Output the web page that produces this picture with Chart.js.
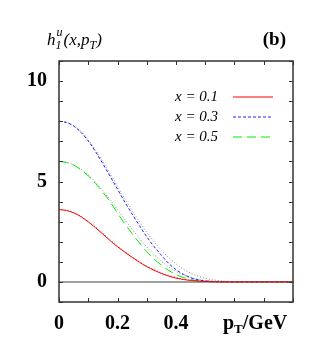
<!DOCTYPE html>
<html>
<head>
<meta charset="utf-8">
<script src="https://cdn.jsdelivr.net/npm/chart.js@4.4.0/dist/chart.umd.min.js"></script>
<style>
  html, body { margin: 0; padding: 0; background: #fff; }
  #wrap { width: 327px; height: 343px; }
</style>
</head>
<body>
<div id="wrap"><canvas id="chart" width="327" height="343"></canvas></div>
<script>
// pT grid (GeV)
const pT = [0, 0.025, 0.05, 0.075, 0.1, 0.125, 0.15, 0.175, 0.2, 0.225, 0.25, 0.275,
  0.3, 0.325, 0.35, 0.375, 0.4, 0.425, 0.45, 0.475, 0.5, 0.55, 0.6, 0.7, 0.8];

// h1^u(x, pT)
const x01 = [3.60, 3.56, 3.44, 3.25, 2.99, 2.70, 2.38, 2.05, 1.75, 1.48, 1.22, 0.98,
  0.76, 0.58, 0.42, 0.29, 0.19, 0.12, 0.07, 0.04, 0.02, 0.00, 0, 0, 0];
const x03 = [8.00, 7.94, 7.76, 7.45, 7.02, 6.48, 5.88, 5.25, 4.62, 3.98, 3.38, 2.80,
  2.25, 1.76, 1.33, 0.92, 0.61, 0.38, 0.21, 0.11, 0.05, 0.01, 0, 0, 0];
const x05 = [6.00, 5.95, 5.82, 5.58, 5.28, 4.90, 4.46, 3.98, 3.42, 2.90, 2.40, 1.94,
  1.50, 1.13, 0.84, 0.57, 0.37, 0.22, 0.12, 0.06, 0.03, 0.01, 0, 0, 0];

// grey dotted companions (unlabelled)
const g01 = [3.60, 3.56, 3.45, 3.27, 3.02, 2.74, 2.43, 2.11, 1.80, 1.51, 1.25, 1.01,
  0.80, 0.62, 0.46, 0.33, 0.23, 0.15, 0.10, 0.06, 0.03, 0.01, 0, 0, 0];
const g03 = [8.00, 7.95, 7.78, 7.49, 7.08, 6.57, 5.99, 5.38, 4.76, 4.15, 3.56, 3.00,
  2.48, 2.00, 1.58, 1.21, 0.90, 0.64, 0.44, 0.29, 0.18, 0.06, 0.02, 0, 0];
const g05 = [6.00, 5.96, 5.83, 5.61, 5.32, 4.96, 4.54, 4.08, 3.60, 3.11, 2.63, 2.17,
  1.74, 1.36, 1.03, 0.75, 0.52, 0.35, 0.22, 0.13, 0.08, 0.02, 0, 0, 0];

const legendLabels = ["x = 0.1", "x = 0.3", "x = 0.5"];
const colors = ["#ff0000", "#2020ff", "#00ee00"];
const dashes = [[], [3, 2], [9, 5]];
const xTickLabels = [0, 0.2, 0.4];
const yTickLabels = [0, 5, 10];

const pts = arr => pT.map((p, i) => ({ x: p, y: arr[i] }));

function line(data, color, dash) {
  return {
    data: pts(data),
    borderColor: color,
    borderWidth: 1,
    borderDash: dash,
    pointRadius: 0,
    fill: false,
    cubicInterpolationMode: "monotone"
  };
}

const serif = "'Liberation Serif', 'DejaVu Serif', serif";

// frame, inward ticks, zero line, labels, legend
const decor = {
  id: "decor",
  beforeDatasetsDraw(chart) {
    const { ctx, chartArea: a, scales: { y } } = chart;
    ctx.save();
    const y0 = y.getPixelForValue(0);
    ctx.strokeStyle = "#808080";
    ctx.lineWidth = 1.5;
    ctx.beginPath();
    ctx.moveTo(a.left, y0);
    ctx.lineTo(a.right, y0);
    ctx.stroke();
    ctx.restore();
  },
  afterDraw(chart) {
    const { ctx, chartArea: a, scales: { x, y } } = chart;
    ctx.save();
    ctx.strokeStyle = "#333";
    ctx.lineWidth = 1.5;
    ctx.strokeRect(a.left, a.top, a.right - a.left, a.bottom - a.top);

    ctx.lineWidth = 1;
    ctx.beginPath();
    x.ticks.forEach(t => {
      const px = Math.round(x.getPixelForValue(t.value)) + 0.5;
      ctx.moveTo(px, a.bottom); ctx.lineTo(px, a.bottom - 4);
      ctx.moveTo(px, a.top); ctx.lineTo(px, a.top + 4);
    });
    y.ticks.forEach(t => {
      const py = Math.round(y.getPixelForValue(t.value)) + 0.5;
      ctx.moveTo(a.left, py); ctx.lineTo(a.left + 4, py);
      ctx.moveTo(a.right, py); ctx.lineTo(a.right - 4, py);
    });
    ctx.stroke();

    // title h_1^u(x,p_T)
    ctx.fillStyle = "#000";
    ctx.textBaseline = "alphabetic";
    ctx.textAlign = "left";
    let cx = 47;
    const base = 45;
    ctx.font = "italic 17px " + serif;
    ctx.fillText("h", cx, base);
    cx += ctx.measureText("h").width;
    ctx.font = "italic 12px " + serif;
    ctx.fillText("u", cx + 1, base - 9);
    ctx.fillText("1", cx, base + 4);
    cx += ctx.measureText("u").width + 2;
    ctx.font = "italic 17px " + serif;
    ctx.fillText("(x,p", cx, base);
    cx += ctx.measureText("(x,p").width;
    ctx.font = "italic 12px " + serif;
    ctx.fillText("T", cx, base + 4);
    cx += ctx.measureText("T").width;
    ctx.font = "italic 17px " + serif;
    ctx.fillText(")", cx, base);

    ctx.font = "bold 19px " + serif;
    ctx.textAlign = "right";
    ctx.fillText("(b)", 286, base);

    // axis label pT/GeV
    ctx.textAlign = "left";
    const bx = 223, by = 329;
    ctx.font = "bold 20px " + serif;
    ctx.fillText("p", bx, by);
    let w = ctx.measureText("p").width;
    ctx.font = "bold 13px " + serif;
    ctx.fillText("T", bx + w, by + 4);
    w += ctx.measureText("T").width;
    ctx.font = "bold 20px " + serif;
    ctx.fillText("/GeV", bx + w, by);

    // legend
    ctx.font = "italic 15px " + serif;
    ctx.textAlign = "right";
    ctx.textBaseline = "middle";
    legendLabels.forEach((lab, i) => {
      const ly = 97 + i * 20;
      ctx.fillStyle = "#000";
      ctx.fillText(lab, 218, ly);
      ctx.strokeStyle = colors[i];
      ctx.setLineDash(dashes[i]);
      ctx.lineWidth = 1.2;
      ctx.beginPath();
      ctx.moveTo(233, ly);
      ctx.lineTo(273, ly);
      ctx.stroke();
    });
    ctx.setLineDash([]);
    ctx.restore();
  }
};

new Chart(document.getElementById("chart"), {
  type: "line",
  data: {
    datasets: [
      line(x01, colors[0], dashes[0]),
      line(x03, colors[1], dashes[1]),
      line(x05, colors[2], dashes[2]),
      line(g01, "#8a8a8a", [1, 2]),
      line(g03, "#8a8a8a", [1, 2]),
      line(g05, "#8a8a8a", [1, 2])
    ]
  },
  options: {
    responsive: false,
    animation: false,
    layout: { padding: { top: 61, right: 34, left: 0, bottom: 0 } },
    plugins: { legend: { display: false }, tooltip: { enabled: false } },
    scales: {
      x: {
        type: "linear",
        min: 0,
        max: 0.8,
        afterFit: s => { s.height = 41; },
        grid: { display: false, drawTicks: false },
        border: { display: false },
        ticks: {
          stepSize: 0.1,
          autoSkip: false,
          maxRotation: 0,
          padding: 10,
          color: "#000",
          font: { family: serif, size: 20, weight: "bold" },
          callback: v => {
            const r = Math.round(v * 10) / 10;
            return xTickLabels.includes(r) ? String(r) : "";
          }
        }
      },
      y: {
        min: -1,
        max: 11,
        afterFit: s => { s.width = 59; },
        grid: { display: false, drawTicks: false },
        border: { display: false },
        ticks: {
          stepSize: 1,
          autoSkip: false,
          padding: 12,
          color: "#000",
          font: { family: serif, size: 20, weight: "bold" },
          callback: v => yTickLabels.includes(v) ? String(v) : ""
        }
      }
    }
  },
  plugins: [decor]
});
</script>
</body>
</html>
